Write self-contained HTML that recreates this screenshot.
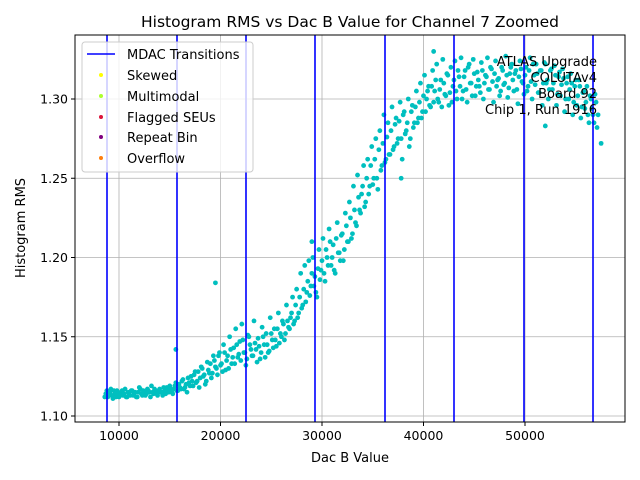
<!DOCTYPE html>
<html><head><meta charset="utf-8"><style>
body{margin:0;background:#fff}
svg{display:block;font-family:"DejaVu Sans","Liberation Sans",sans-serif}
</style></head><body>
<svg id="chart" width="640" height="480">
<rect x="0" y="0" width="640" height="480" fill="#fff"/>
<text x="350" y="27" font-size="15.5" text-anchor="middle">Histogram RMS vs Dac B Value for Channel 7 Zoomed</text>
<g id="grid"></g>
<g id="points"></g>
<g id="vlines"></g>
<rect x="75" y="35" width="550" height="387" fill="none" stroke="#000" stroke-width="1"/>
<g id="ticks"></g>
<text x="350" y="462" font-size="13" text-anchor="middle">Dac B Value</text>
<text x="25" y="228" font-size="13" text-anchor="middle" transform="rotate(-90 25 228)">Histogram RMS</text>
<g font-size="13" text-anchor="end">
<text x="597" y="66">ATLAS Upgrade</text>
<text x="597" y="82">COLUTAv4</text>
<text x="597" y="98">Board 92</text>
<text x="597" y="114">Chip 1, Run 1916</text>
</g>
<g>
<rect x="82" y="42" width="171" height="130" rx="3" fill="#fff" fill-opacity="0.8" stroke="#ccc"/>
<g><line x1="87" y1="54" x2="115" y2="54" stroke="#0000ff" stroke-width="1.5"/><text x="127" y="59" font-size="13">MDAC Transitions</text></g>
<g><circle cx="101" cy="75" r="2" fill="#ffff00"/><text x="127" y="80" font-size="13">Skewed</text></g>
<g><circle cx="101" cy="96" r="2" fill="#adff2f"/><text x="127" y="101" font-size="13">Multimodal</text></g>
<g><circle cx="101" cy="117" r="2" fill="#dc143c"/><text x="127" y="122" font-size="13">Flagged SEUs</text></g>
<g><circle cx="101" cy="137" r="2" fill="#800080"/><text x="127" y="142" font-size="13">Repeat Bin</text></g>
<g><circle cx="101" cy="158" r="2" fill="#ff7f0e"/><text x="127" y="163" font-size="13">Overflow</text></g>
</g>
</svg>
<script>
const xTicks = [10000, 20000, 30000, 40000, 50000];
const yTicks = [1.10, 1.15, 1.20, 1.25, 1.30];
const yTickLabels = ["1.10", "1.15", "1.20", "1.25", "1.30"];
const transitions = [8818, 15714, 22512, 29310, 36207, 43005, 49901, 56700];
const dacValues = [8600,8800,9000,9200,9400,9600,9800,10000,10200,10400,10600,10800,11000,11200,11400,11600,11800,12000,12200,12400,12600,12800,13000,13200,13400,13600,13800,14000,14200,14400,14600,14800,15000,15200,15400,15600,15800,16000,16200,16400,16600,16800,17000,17200,17400,17600,17800,18000,18200,18400,18600,18800,19000,19200,19400,19600,19800,20000,20200,20400,20600,20800,21000,21200,21400,21600,21800,22000,22200,22400,22600,22800,23000,23200,23400,23600,23800,24000,24200,24400,24600,24800,25000,25200,25400,25600,25800,26000,26200,26400,26600,26800,27000,27200,27400,27600,27800,28000,28200,28400,28600,28800,29000,29200,29400,29600,29800,30000,30200,30400,30600,30800,31000,31200,31400,31600,31800,32000,32200,32400,32600,32800,33000,33200,33400,33600,33800,34000,34200,34400,34600,34800,35000,35200,35400,35600,35800,36000,36200,36400,36600,36800,37000,37200,37400,37600,37800,38000,38200,38400,38600,38800,39000,39200,39400,39600,39800,40000,40200,40400,40600,40800,41000,41200,41400,41600,41800,42000,42200,42400,42600,42800,43000,43200,43400,43600,43800,44000,44200,44400,44600,44800,45000,45200,45400,45600,45800,46000,46200,46400,46600,46800,47000,47200,47400,47600,47800,48000,48200,48400,48600,48800,49000,49200,49400,49600,49800,50000,50200,50400,50600,50800,51000,51200,51400,51600,51800,52000,52200,52400,52600,52800,53000,53200,53400,53600,53800,54000,54200,54400,54600,54800,55000,55200,55400,55600,55800,56000,56200,56400,56600,56800,57000,57200,19500,15600,29000,37800,41000,52000,57500];
const rmsValues = [1.112,1.116,1.113,1.117,1.111,1.114,1.116,1.112,1.115,1.113,1.117,1.112,1.114,1.116,1.113,1.115,1.112,1.118,1.114,1.116,1.113,1.117,1.115,1.119,1.114,1.116,1.113,1.117,1.115,1.118,1.114,1.116,1.119,1.115,1.117,1.121,1.116,1.118,1.122,1.117,1.120,1.124,1.119,1.122,1.126,1.121,1.128,1.124,1.130,1.126,1.122,1.129,1.133,1.127,1.135,1.130,1.138,1.132,1.128,1.140,1.135,1.130,1.142,1.137,1.133,1.145,1.139,1.135,1.148,1.140,1.136,1.150,1.142,1.138,1.146,1.134,1.144,1.140,1.150,1.137,1.145,1.141,1.152,1.143,1.148,1.155,1.146,1.150,1.158,1.152,1.160,1.155,1.165,1.158,1.170,1.162,1.175,1.168,1.180,1.172,1.185,1.176,1.190,1.182,1.178,1.193,1.186,1.198,1.190,1.205,1.195,1.210,1.200,1.192,1.212,1.203,1.198,1.215,1.205,1.220,1.210,1.225,1.215,1.230,1.220,1.238,1.228,1.245,1.232,1.250,1.240,1.258,1.246,1.262,1.250,1.268,1.255,1.272,1.260,1.276,1.265,1.280,1.268,1.284,1.272,1.286,1.275,1.290,1.278,1.285,1.270,1.292,1.282,1.295,1.285,1.298,1.288,1.302,1.292,1.305,1.296,1.308,1.298,1.312,1.300,1.306,1.295,1.310,1.302,1.315,1.304,1.298,1.312,1.305,1.318,1.308,1.300,1.314,1.306,1.320,1.310,1.302,1.316,1.308,1.312,1.304,1.318,1.310,1.314,1.306,1.320,1.311,1.316,1.308,1.313,1.305,1.318,1.310,1.315,1.307,1.320,1.312,1.316,1.306,1.314,1.319,1.310,1.315,1.305,1.318,1.311,1.322,1.309,1.316,1.304,1.318,1.310,1.322,1.312,1.306,1.319,1.310,1.315,1.303,1.317,1.309,1.313,1.300,1.314,1.306,1.310,1.298,1.312,1.302,1.308,1.295,1.305,1.298,1.290,1.302,1.294,1.285,1.298,1.290,1.184,1.142,1.210,1.250,1.330,1.283,1.272];
const dacValues2 = [8700,8900,9100,9300,9500,9700,9900,10100,10300,10500,10700,10900,11100,11300,11500,11700,11900,12100,12300,12500,12700,12900,13100,13300,13500,13700,13900,14100,14300,14500,14700,14900,15100,15300,15500,15700,15900,16100,16300,16500,16700,16900,17100,17300,17500,17700,17900,18100,18300,18500,18700,18900,19100,19300,19500,19700,19900,20100,20300,20500,20700,20900,21100,21300,21500,21700,21900,22100,22300,22500,22700,22900,23100,23300,23500,23700,23900,24100,24300,24500,24700,24900,25100,25300,25500,25700,25900,26100,26300,26500,26700,26900,27100,27300,27500,27700,27900,28100,28300,28500,28700,28900,29100,29300,29500,29700,29900,30100,30300,30500,30700,30900,31100,31300,31500,31700,31900,32100,32300,32500,32700,32900,33100,33300,33500,33700,33900,34100,34300,34500,34700,34900,35100,35300,35500,35700,35900,36100,36300,36500,36700,36900,37100,37300,37500,37700,37900,38100,38300,38500,38700,38900,39100,39300,39500,39700,39900,40100,40300,40500,40700,40900,41100,41300,41500,41700,41900,42100,42300,42500,42700,42900,43100,43300,43500,43700,43900,44100,44300,44500,44700,44900,45100,45300,45500,45700,45900,46100,46300,46500,46700,46900,47100,47300,47500,47700,47900,48100,48300,48500,48700,48900,49100,49300,49500,49700,49900,50100,50300,50500,50700,50900,51100,51300,51500,51700,51900,52100,52300,52500,52700,52900,53100,53300,53500,53700,53900,54100,54300,54500,54700,54900,55100,55300,55500,55700,55900,56100,56300,56500,56700,56900,57100];
const rmsValues2 = [1.114,1.112,1.115,1.113,1.116,1.112,1.114,1.113,1.116,1.114,1.112,1.115,1.113,1.116,1.114,1.112,1.115,1.117,1.113,1.115,1.114,1.116,1.112,1.115,1.117,1.114,1.116,1.115,1.113,1.116,1.118,1.115,
1.117,1.114,1.119,1.116,1.120,1.117,1.123,1.118,1.115,1.121,1.125,1.119,1.128,1.122,1.118,1.131,1.125,1.120,1.134,1.127,1.124,1.138,1.131,1.126,1.140,
1.133,1.145,1.129,1.138,1.150,1.133,1.143,1.155,1.137,1.147,1.158,1.140,1.132,1.151,1.145,1.138,1.160,1.142,1.149,1.136,1.156,1.145,1.152,1.140,1.162,1.148,1.155,1.144,1.165,1.152,1.160,1.148,1.170,1.156,1.162,
1.175,1.160,1.180,1.165,1.190,1.170,1.195,1.178,1.198,1.182,1.200,1.188,1.175,1.205,1.192,1.212,1.185,1.200,1.218,1.195,1.208,1.190,1.222,1.203,1.214,1.198,1.228,1.210,1.235,1.212,1.245,1.222,1.252,1.230,1.240,
1.258,1.235,1.262,1.245,1.270,1.250,1.275,1.243,1.280,1.258,1.290,1.262,1.285,1.265,1.295,1.270,1.288,1.275,1.298,1.262,1.292,1.280,1.300,1.275,1.296,1.285,1.305,1.288,1.310,1.292,1.315,1.300,1.308,1.295,1.318,
1.305,1.322,1.298,1.312,1.325,1.303,1.316,1.296,1.320,1.308,1.324,1.300,1.314,1.326,1.305,1.318,1.298,1.322,1.310,1.325,1.302,1.317,1.308,1.323,1.300,1.315,1.326,1.306,1.319,1.298,1.324,1.312,1.302,1.320,1.309,1.327,1.301,1.316,1.322,1.305,1.318,1.297,1.324,1.311,1.303,1.320,1.308,1.326,1.300,1.315,1.322,1.304,1.318,1.296,1.323,1.310,1.300,1.318,1.306,1.321,1.296,1.314,1.302,1.319,1.292,1.310,1.300,1.316,1.290,1.308,1.296,1.312,1.288,1.304,1.294,1.308,1.285,1.300,1.290,1.303,1.282];

const NS = "http://www.w3.org/2000/svg";
const X0 = 75, X1 = 625, Y0 = 35, Y1 = 422;
function xScale(v){ return 17.5 + v * 0.01015; }
function yScale(v){ return 416 - (v - 1.10) / 0.05 * 79.25; }
function mk(tag, attrs, parent){ const e = document.createElementNS(NS, tag); for (const k in attrs) e.setAttribute(k, attrs[k]); parent.appendChild(e); return e; }

const grid = document.getElementById('grid');
const ticks = document.getElementById('ticks');
xTicks.forEach(t => {
  const x = xScale(t);
  const g = mk('line', {x1:x, x2:x, y1:Y0, y2:Y1, stroke:'#b0b0b0', 'stroke-width':0.8}, grid);
  
  
  const tk = mk('line', {x1:x, x2:x, y1:Y1, y2:Y1+4, stroke:'#000'}, ticks);
  
  
  const lb = mk('text', {x:x, y:Y1+18, 'font-size':12.5, 'text-anchor':'middle'}, ticks);
  lb.textContent = String(t);
  
  
});
yTicks.forEach((t, i) => {
  const y = yScale(t);
  const g = mk('line', {x1:X0, x2:X1, y1:y, y2:y, stroke:'#b0b0b0', 'stroke-width':0.8}, grid);
  
  
  const tk = mk('line', {x1:X0-4, x2:X0, y1:y, y2:y, stroke:'#000'}, ticks);
  
  
  const lb = mk('text', {x:X0-7, y:y+4.5, 'font-size':12.5, 'text-anchor':'end'}, ticks);
  lb.textContent = yTickLabels[i];
  
  
});

const pts = document.getElementById('points');
function drawSeries(xs, ys){
  xs.forEach((d, i) => {
    const c = mk('circle', {cx:xScale(d), cy:yScale(ys[i]), r:2.4, fill:'#00bfbf'}, pts);
    
    
  });
}
drawSeries(dacValues, rmsValues);
drawSeries(dacValues2, rmsValues2);

const vl = document.getElementById('vlines');
transitions.forEach(t => {
  const x = xScale(t);
  const l = mk('line', {x1:x, x2:x, y1:Y0, y2:Y1, stroke:'#0000ff', 'stroke-width':1.6}, vl);
  
  
});
</script>
</body></html>
